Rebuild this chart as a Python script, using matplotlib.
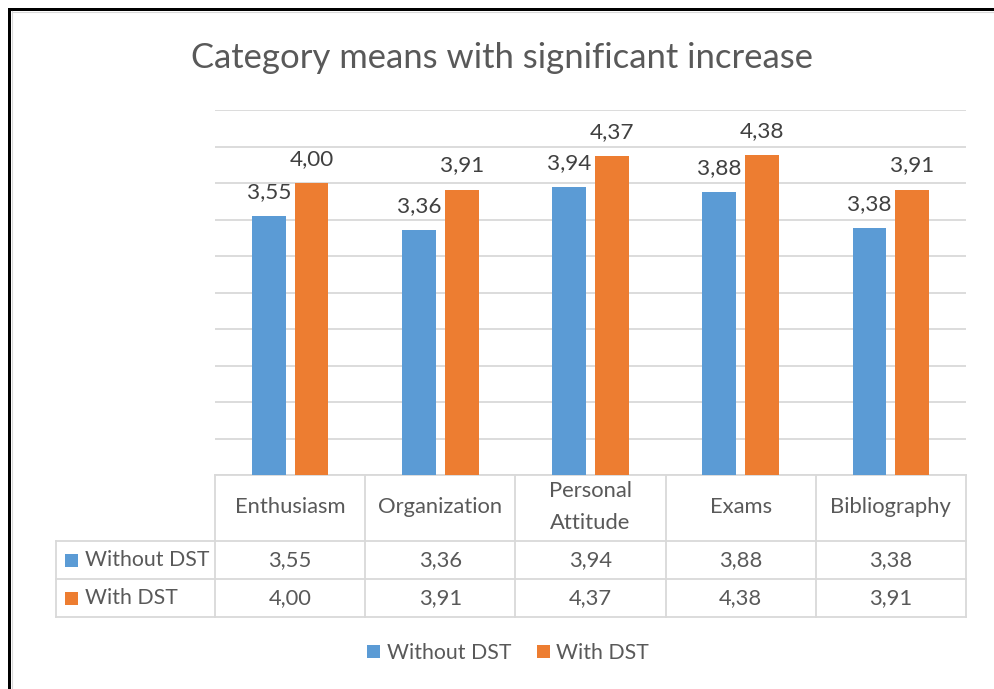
import matplotlib
matplotlib.use("Agg")
import matplotlib.pyplot as plt
from matplotlib.transforms import Affine2D, blended_transform_factory
from matplotlib.patches import Rectangle
from matplotlib.lines import Line2D

categories = ["Enthusiasm", "Organization", "Personal\nAttitude", "Exams", "Bibliography"]
series_names = ["Without DST", "With DST"]
without_dst = [3.55, 3.36, 3.94, 3.88, 3.38]
with_dst = [4.00, 3.91, 4.37, 4.38, 3.91]
labels_without = ["3,55", "3,36", "3,94", "3,88", "3,38"]
labels_with = ["4,00", "3,91", "4,37", "4,38", "3,91"]

BLUE = "#5B9BD5"
ORANGE = "#ED7D31"
GRID = "#D9D9D9"
TXT = "#595959"
FS = 15.8
FS_SER = 15.3

plt.rcParams['font.family'] = ['Lato', 'DejaVu Sans']

W, H = 994, 689
fig = plt.figure(figsize=(W / 100, H / 100), dpi=100)
fig.patch.set_facecolor("white")

def fx(px):
    return px / W

def fy(py):
    return 1 - py / H

# main plot area
L, R, T, B = 215, 966, 110, 475
ax = fig.add_axes([fx(L), fy(B), fx(R) - fx(L), (B - T) / H])
ax.set_xlim(-0.5, len(categories) - 0.5)
ax.set_ylim(0, 5)
ax.set_yticks([i * 0.5 for i in range(11)])
ax.yaxis.grid(True, color=GRID, lw=1.3)
ax.set_axisbelow(True)
ax.tick_params(left=False, bottom=False, labelleft=False, labelbottom=False)
for s in ax.spines.values():
    s.set_visible(False)

x = list(range(len(categories)))
bw = 0.225
off = 0.142
b1 = ax.bar([i - off for i in x], without_dst, bw, color=BLUE, zorder=3)
b2 = ax.bar([i + off for i in x], with_dst, bw, color=ORANGE, zorder=3)

for bars, labs in [(b1, labels_without), (b2, labels_with)]:
    for rect, lab in zip(bars, labs):
        ax.annotate(lab, (rect.get_x() + rect.get_width() / 2, rect.get_height()),
                    xytext=(0, 13), textcoords="offset points", ha="center", va="baseline",
                    fontsize=16.2, color="#404040")

# title
fig.text(fx(502), fy(58), "Category means with significant increase", ha="center", va="center",
         fontsize=24.9, color=TXT)

# data table (x in category units, y in pixels from top)
ypx = Affine2D().scale(1 / 100, -1 / 100).translate(0, H / 100) + fig.dpi_scale_trans
tr = blended_transform_factory(ax.transData, ypx)
colw = (R - L) / len(categories)
x_left = -0.5 - (L - 56) / colw
n = len(categories)
lw_t = 1.3

def hline(x0, x1, y):
    ax.add_line(Line2D([x0, x1], [y, y], transform=tr, color=GRID, lw=lw_t, clip_on=False))

def vline(xv, y0, y1):
    ax.add_line(Line2D([xv, xv], [y0, y1], transform=tr, color=GRID, lw=lw_t, clip_on=False))

hline(-0.5, n - 0.5, 475)
hline(x_left, n - 0.5, 541)
hline(x_left, n - 0.5, 579)
hline(x_left, n - 0.5, 617)
for i in range(n + 1):
    vline(i - 0.5, 475, 617)
vline(x_left, 541, 617)

for i, c in enumerate(categories):
    ax.text(i, 507, c, transform=tr, ha="center", va="center", fontsize=FS, color=TXT,
            linespacing=1.72, clip_on=False)
for i in range(n):
    ax.text(i, 560, labels_without[i], transform=tr, ha="center", va="center", fontsize=FS,
            color=TXT, clip_on=False)
    ax.text(i, 598, labels_with[i], transform=tr, ha="center", va="center", fontsize=FS,
            color=TXT, clip_on=False)

# row keys
for yc, name, col in [(560, series_names[0], BLUE), (598, series_names[1], ORANGE)]:
    fig.patches.append(Rectangle((fx(65), fy(yc + 6.5)), 13 / W, 13 / H, transform=fig.transFigure,
                                 facecolor=col, edgecolor="none"))
    fig.text(fx(85), fy(yc), name, ha="left", va="center", fontsize=FS_SER, color=TXT)

# legend
leg = fig.legend([b1, b2], series_names, loc="center", bbox_to_anchor=(fx(508), fy(653)),
                 ncol=2, frameon=False, fontsize=FS_SER, handlelength=0.62, handleheight=0.62,
                 handletextpad=0.3, columnspacing=1.2, labelcolor=TXT)

# chart border (black frame on top and left, light inner line)
fig.patches.append(Rectangle((fx(8), 0), 3 / W, fy(8), transform=fig.transFigure,
                             facecolor="black", edgecolor="none"))
fig.patches.append(Rectangle((fx(8), fy(11)), 1 - fx(8), 3 / H, transform=fig.transFigure,
                             facecolor="black", edgecolor="none"))
fig.add_artist(Line2D([fx(11.5), fx(11.5)], [0, fy(11)], transform=fig.transFigure, color=GRID, lw=0.8))
fig.add_artist(Line2D([fx(11.5), 1], [fy(11.5), fy(11.5)], transform=fig.transFigure, color=GRID, lw=0.8))

fig.savefig("out.png", dpi=100, facecolor="white")
